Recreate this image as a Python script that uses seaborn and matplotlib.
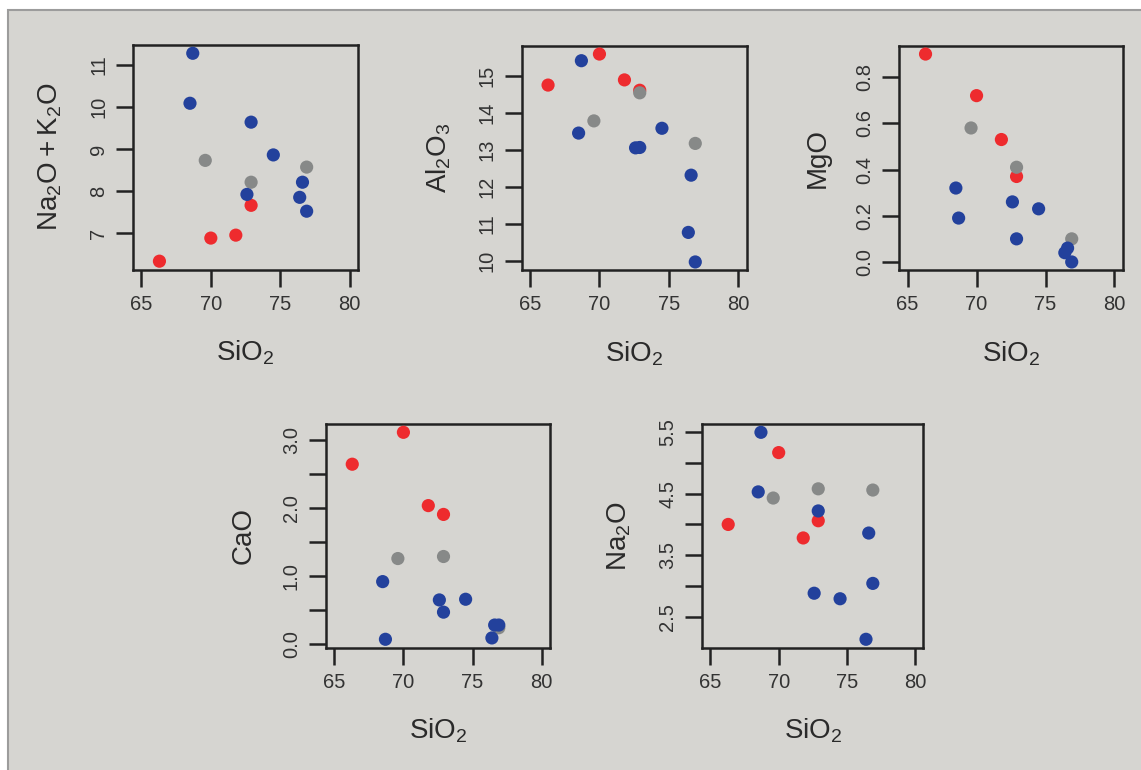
import pandas as pd
import seaborn as sns
import matplotlib.pyplot as plt
from matplotlib.patches import Rectangle

# sample groups, SiO2 and oxides (wt%)
group = ['red'] * 4 + ['gray'] * 3 + ['blue'] * 8
sio2 = [66.3, 70.0, 71.8, 72.9,
        69.6, 72.9, 76.9,
        68.5, 68.7, 72.6, 72.9, 74.5, 76.4, 76.6, 76.9]
alkali = [6.33, 6.88, 6.95, 7.66,
          8.73, 8.21, 8.57,
          10.09, 11.28, 7.92, 9.64, 8.86, 7.85, 8.21, 7.52]
al2o3 = [14.76, 15.6, 14.9, 14.62,
         13.79, 14.55, 13.18,
         13.46, 15.42, 13.06, 13.07, 13.59, 10.77, 12.32, 9.97]
mgo = [0.90, 0.72, 0.53, 0.37,
       0.58, 0.41, 0.10,
       0.32, 0.19, 0.26, 0.10, 0.23, 0.04, 0.06, 0.00]
cao = [2.65, 3.12, 2.04, 1.91,
       1.26, 1.29, 0.24,
       0.92, 0.07, 0.65, 0.47, 0.66, 0.09, 0.28, 0.28]
na2o = [4.00, 5.17, 3.78, 4.06,
        4.43, 4.58, 4.56,
        4.53, 5.50, 2.88, 4.22, 2.79, 2.13, 3.86, 3.04]

x_ticks = [65, 70, 75, 80]
x_labels = ['65', '70', '75', '80']

panels = [
    ('alkali', r'$\mathregular{Na_2O + K_2O}$',
     [7, 8, 9, 10, 11], ['7', '8', '9', '10', '11']),
    ('al2o3', r'$\mathregular{Al_2O_3}$',
     [10, 11, 12, 13, 14, 15], ['10', '11', '12', '13', '14', '15']),
    ('mgo', 'MgO',
     [0.0, 0.2, 0.4, 0.6, 0.8], ['0.0', '0.2', '0.4', '0.6', '0.8']),
    ('cao', 'CaO',
     [0.0, 0.5, 1.0, 1.5, 2.0, 2.5, 3.0],
     ['0.0', '', '1.0', '', '2.0', '', '3.0']),
    ('na2o', r'$\mathregular{Na_2O}$',
     [2.5, 3.0, 3.5, 4.0, 4.5, 5.0, 5.5],
     ['2.5', '', '3.5', '', '4.5', '', '5.5']),
]

# axes boxes in figure fractions (left, bottom, width, height)
boxes = [
    (0.1166, 0.650, 0.1972, 0.2916),
    (0.4572, 0.649, 0.1972, 0.2916),
    (0.7882, 0.649, 0.1958, 0.2916),
    (0.2857, 0.159, 0.1963, 0.2903),
    (0.6155, 0.159, 0.1937, 0.2903),
]

df = pd.DataFrame({'group': group, 'sio2': sio2, 'alkali': alkali,
                   'al2o3': al2o3, 'mgo': mgo, 'cao': cao, 'na2o': na2o})

bg = '#d6d5d1'
palette = {'red': '#ee2b2e', 'gray': '#878988', 'blue': '#23419c'}

sns.set_theme(style='white')
plt.rcParams['font.family'] = ['Liberation Sans', 'DejaVu Sans']
plt.rcParams['mathtext.fontset'] = 'custom'
plt.rcParams['mathtext.rm'] = 'Liberation Sans'

fig = plt.figure(figsize=(11.41, 7.70), dpi=100)
fig.patch.set_facecolor('white')
# grey panel with a thin border on the top and left edges only
fig.patches.append(Rectangle((8 / 1141, -0.1), 1.2, 1.1 - 10 / 770,
                             transform=fig.transFigure, facecolor=bg,
                             edgecolor='#9c9c9c', linewidth=1.5, zorder=-1))

for (col, ylabel, yt, ytl), box in zip(panels, boxes):
    ax = fig.add_axes(box)
    ax.set_facecolor(bg)
    sns.scatterplot(data=df, x='sio2', y=col, hue='group', palette=palette,
                    s=90, edgecolor='none', legend=False, ax=ax, zorder=3)
    ax.set_xlim(64.4, 80.6)
    lo, hi = df[col].min(), df[col].max()
    pad = (hi - lo) * 0.04
    ax.set_ylim(lo - pad, hi + pad)

    ax.set_xticks(x_ticks)
    ax.set_xticklabels(x_labels)
    ax.set_yticks(yt)
    ax.set_yticklabels(ytl, rotation=90, va='center')
    ax.tick_params(axis='both', direction='out', length=12, width=1.8,
                   color='#222222', labelsize=14.5, labelcolor='#333333',
                   pad=6, bottom=True, left=True)
    for sp in ax.spines.values():
        sp.set_visible(True)
        sp.set_color('#222222')
        sp.set_linewidth(1.8)

    ax.set_xlabel(r'$\mathregular{SiO_2}$', fontsize=20, color='#2a2a2a',
                  labelpad=18)
    ax.set_ylabel(ylabel, fontsize=20, color='#2a2a2a', labelpad=18)

plt.savefig('out.png', dpi=100, facecolor=fig.get_facecolor())
